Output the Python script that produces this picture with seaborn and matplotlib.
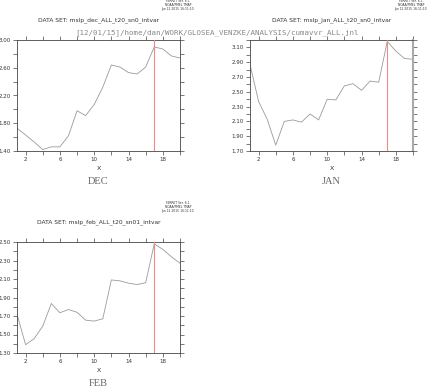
import numpy as np
import pandas as pd
import seaborn as sns
import matplotlib.pyplot as plt

# values (x = 1..20)
x_vals = list(range(1, 21))
dec_vals = [1.73, 1.63, 1.53, 1.42, 1.46, 1.46, 1.62, 1.98, 1.91, 2.07, 2.32, 2.64, 2.61,
            2.53, 2.51, 2.61, 2.90, 2.87, 2.77, 2.74]
jan_vals = [2.87, 2.37, 2.13, 1.78, 2.10, 2.12, 2.09, 2.20, 2.12, 2.40, 2.39, 2.58, 2.61,
            2.52, 2.645, 2.63, 3.18, 3.05, 2.95, 2.94]
feb_vals = [1.72, 1.39, 1.455, 1.59, 1.835, 1.735, 1.77, 1.74, 1.655, 1.645, 1.67, 2.09, 2.08,
            2.055, 2.04, 2.06, 2.48, 2.42, 2.34, 2.27]

months = ['DEC', 'JAN', 'FEB']
dataset_names = ['mslp_dec_ALL_t20_sn0_intvar', 'mslp_jan_ALL_t20_sn0_intvar',
                 'mslp_feb_ALL_t20_sn01_intvar']
marker_x = 17
y_limits = [(1.40, 3.00), (1.70, 3.20), (1.30, 2.50)]
y_major = [[1.4, 1.8, 2.2, 2.6, 3.0],
           [1.7, 1.9, 2.1, 2.3, 2.5, 2.7, 2.9, 3.1],
           [1.3, 1.5, 1.7, 1.9, 2.1, 2.3, 2.5]]
y_minor_step = [0.2, 0.1, 0.1]
x_major = [2, 6, 10, 14, 18]
x_minor = list(range(2, 21, 2))
ferret_stamp = 'FERRET Ver. 6.1\nNOAA/PMEL TMAP\nJan 12 2015 16:11:10'
journal_path = '[12/01/15]/home/dan/WORK/GLOSEA_VENZKE/ANALYSIS/cumavvr_ALL.jnl'

sns.set_style('white')
plt.rcParams['font.family'] = ['DejaVu Sans']

W, H = 430, 388
fig = plt.figure(figsize=(W / 100, H / 100), dpi=100)


def fx(px):
    return px / W


def fy(py):
    return 1 - py / H


# axes boxes in pixels: left, top, right, bottom
boxes = [(17, 40, 180, 151), (250, 40, 413, 151), (17, 242, 180, 353)]
series = [dec_vals, jan_vals, feb_vals]

for i, (l, t, r, b) in enumerate(boxes):
    ax = fig.add_axes([fx(l), fy(b), (r - l) / W, (b - t) / H])
    df = pd.DataFrame({'X': x_vals, 'value': series[i]})
    sns.lineplot(data=df, x='X', y='value', ax=ax, color='#9a9a9a', linewidth=0.6)
    ax.axvline(marker_x, color='#f08a8a', linewidth=0.8, zorder=3)
    ax.set_xlim(1, 20)
    ax.set_ylim(*y_limits[i])
    ax.set_xticks(x_major)
    ax.set_xticks(x_minor, minor=True)
    lo, hi = y_limits[i]
    ax.set_yticks(y_major[i])
    ax.set_yticks(np.arange(lo, hi + 1e-6, y_minor_step[i]), minor=True)
    ax.set_yticklabels(['%.2f' % v for v in y_major[i]])
    ax.tick_params(which='both', direction='out', length=3, width=0.5, color='#444444',
                   top=True, right=True, bottom=True, left=True,
                   labeltop=False, labelright=False, labelsize=4, pad=1.5,
                   labelcolor='#333333')
    for s in ax.spines.values():
        s.set_color('#444444')
        s.set_linewidth(0.6)
    if i == 1:
        ax.spines['right'].set_color('#aaaaaa')
        ax.spines['right'].set_linewidth(1.5)
    ax.set_xlabel('X', fontsize=4.5, labelpad=2.5, color='#333333')
    ax.set_ylabel('')

    cx = (l + r) / 2
    fig.text(fx(cx), fy(t - 20), 'DATA SET: ' + dataset_names[i], fontsize=4.3,
             ha='center', va='center', color='#333333')
    fig.text(fx(r - 2), fy(t - 35), ferret_stamp, fontsize=2.2, ha='center',
             va='center', color='#333333', linespacing=1.1)
    fig.text(fx(cx), fy(b + 31), months[i], fontsize=7.5, ha='center', va='center',
             color='#666666', family=['Liberation Serif', 'DejaVu Serif'])

fig.text(fx(75), fy(33), journal_path, fontsize=5.4, ha='left', va='center',
         color='#888888', family=['DejaVu Sans Mono'])

plt.savefig('out.png', dpi=100)
